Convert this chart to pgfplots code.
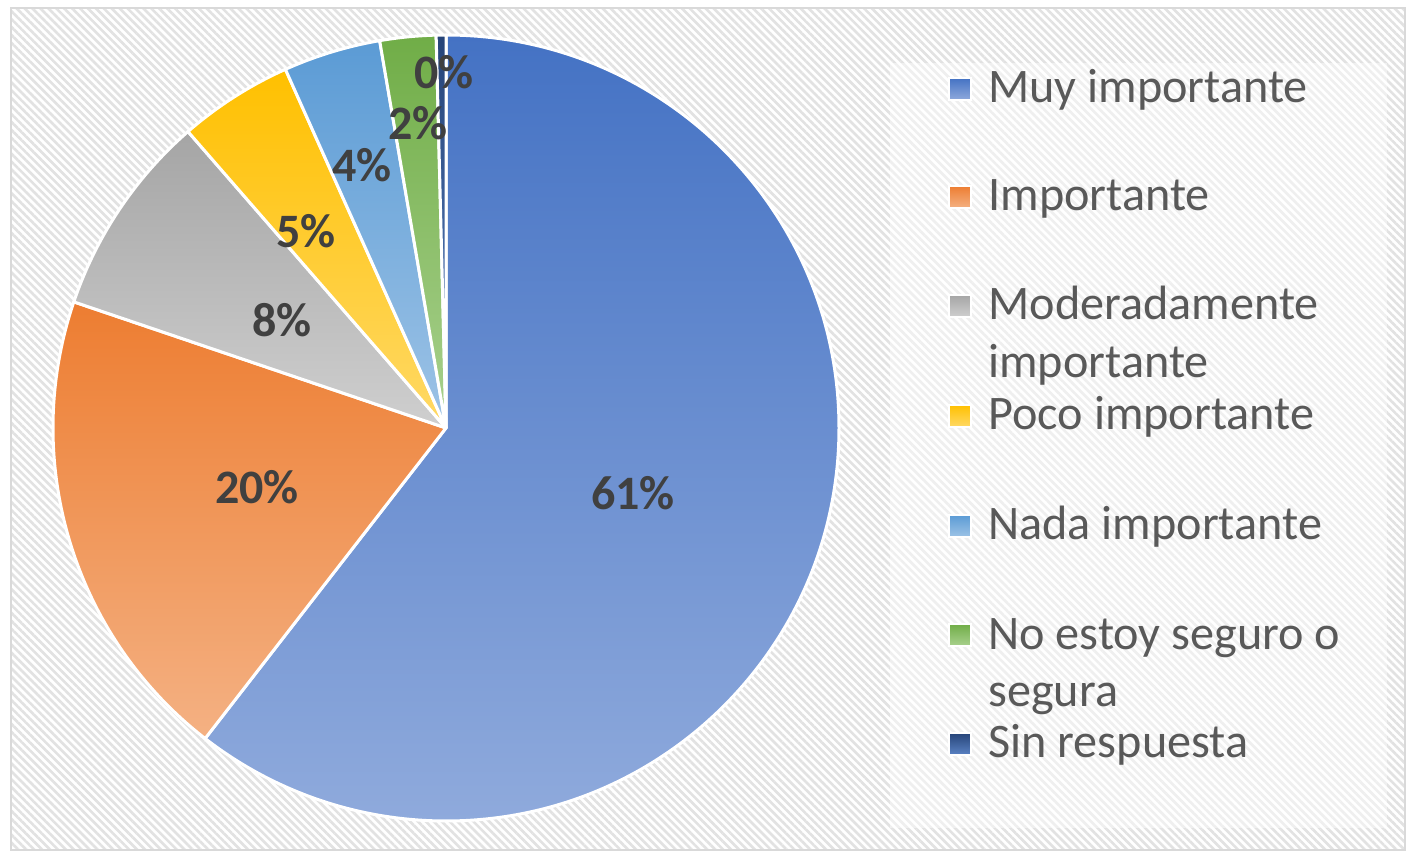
\documentclass[border=0pt]{standalone}
\usepackage{pgfplots}
\pgfplotsset{compat=1.18}
\usepackage{pgfplotstable}
\usepackage{fontspec}
\setmainfont{Carlito}
\usetikzlibrary{patterns.meta}

\definecolor{top0}{HTML}{4472C4}\definecolor{bot0}{HTML}{8FAADC}
\definecolor{top1}{HTML}{ED7D31}\definecolor{bot1}{HTML}{F4B183}
\definecolor{top2}{HTML}{A5A5A5}\definecolor{bot2}{HTML}{CFCFCF}
\definecolor{top3}{HTML}{FFC000}\definecolor{bot3}{HTML}{FFD966}
\definecolor{top4}{HTML}{5B9BD5}\definecolor{bot4}{HTML}{9DC3E6}
\definecolor{top5}{HTML}{70AD47}\definecolor{bot5}{HTML}{A9D18E}
\definecolor{top6}{HTML}{264478}\definecolor{bot6}{HTML}{5B83C5}
\definecolor{lbl}{HTML}{404040}
\definecolor{leg}{HTML}{595959}
\definecolor{hatch}{HTML}{E2E2E2}
\definecolor{bordercol}{HTML}{D9D9D9}

% share of each answer, in percent (clockwise from 12 o'clock)
\pgfplotstableread{
idx value
0 60.5
1 19.7
2 8.4
3 4.7
4 4.0
5 2.3
6 0.4
}\piedata

\gdef\cum{0}
\foreach \i in {0,...,6}{%
  \pgfplotstablegetelem{\i}{value}\of\piedata
  \pgfmathsetmacro\sa{90-3.6*\cum}%
  \pgfmathsetmacro\newcum{\cum+\pgfplotsretval}%
  \pgfmathsetmacro\sb{90-3.6*\newcum}%
  \expandafter\xdef\csname sA\i\endcsname{\sa}%
  \expandafter\xdef\csname sB\i\endcsname{\sb}%
  \xdef\cum{\newcum}%
}

\begin{document}
\begin{tikzpicture}
\begin{axis}[width=707.5pt, height=427.5pt, scale only axis,
  xmin=0, xmax=1415, ymin=0, ymax=855, y dir=reverse,
  axis lines=none, clip=false]
\fill[white] (axis cs:0,0) rectangle (axis cs:1415,855);
\path[pattern={Lines[angle=-45,distance=2.8pt,line width=1.3pt]}, pattern color=hatch]
  (axis cs:11,8) rectangle (axis cs:1405,850);
\draw[bordercol, line width=1pt] (axis cs:11,8) rectangle (axis cs:1405,850);
% legend background
\fill[white, opacity=0.45] (axis cs:890,63) rectangle (axis cs:1387,828);
% slices
\pgfplotsinvokeforeach{0,...,6}{%
  \edef\tmp{\noexpand\path[top color=top#1, bottom color=bot#1, draw=white, line width=1.5pt, line join=round]
    (axis cs:446,428) -- ++(\csname sA#1\endcsname:196.5pt)
    arc[start angle=\csname sA#1\endcsname, end angle=\csname sB#1\endcsname, radius=196.5pt] -- cycle;}%
  \tmp
}
% data labels
\begin{scope}[every node/.style={font=\fontsize{24}{28}\selectfont\bfseries, text=lbl, inner sep=0pt}]
\node at (axis cs:633,493) {61\%};
\node at (axis cs:257,487) {20\%};
\node at (axis cs:282,320) {8\%};
\node at (axis cs:306,231) {5\%};
\node at (axis cs:362,165) {4\%};
\node at (axis cs:418,123) {2\%};
\node at (axis cs:444,72) {0\%};
\end{scope}
% legend
\begin{scope}[every node/.style={font=\fontsize{24.1}{28}\selectfont, text=leg, inner sep=0pt, anchor=base west}]
\path[top color=top0, bottom color=bot0, draw=white, line width=0.6pt] (axis cs:949,78) rectangle (axis cs:971,100);
\node at (axis cs:988,103) {Muy importante};
\path[top color=top1, bottom color=bot1, draw=white, line width=0.6pt] (axis cs:949,186) rectangle (axis cs:971,208);
\node at (axis cs:988,211) {Importante};
\path[top color=top2, bottom color=bot2, draw=white, line width=0.6pt] (axis cs:949,295) rectangle (axis cs:971,317);
\node at (axis cs:988,320) {Moderadamente};
\node at (axis cs:988,378) {importante};
\path[top color=top3, bottom color=bot3, draw=white, line width=0.6pt] (axis cs:949,405) rectangle (axis cs:971,427);
\node at (axis cs:988,430) {Poco importante};
\path[top color=top4, bottom color=bot4, draw=white, line width=0.6pt] (axis cs:949,515) rectangle (axis cs:971,537);
\node at (axis cs:988,540) {Nada importante};
\path[top color=top5, bottom color=bot5, draw=white, line width=0.6pt] (axis cs:949,624) rectangle (axis cs:971,646);
\node at (axis cs:988,650) {No estoy seguro o};
\node at (axis cs:988,706) {segura};
\path[top color=top6, bottom color=bot6, draw=white, line width=0.6pt] (axis cs:949,733) rectangle (axis cs:971,755);
\node at (axis cs:988,757) {Sin respuesta};
\end{scope}
\end{axis}
\end{tikzpicture}
\end{document}
